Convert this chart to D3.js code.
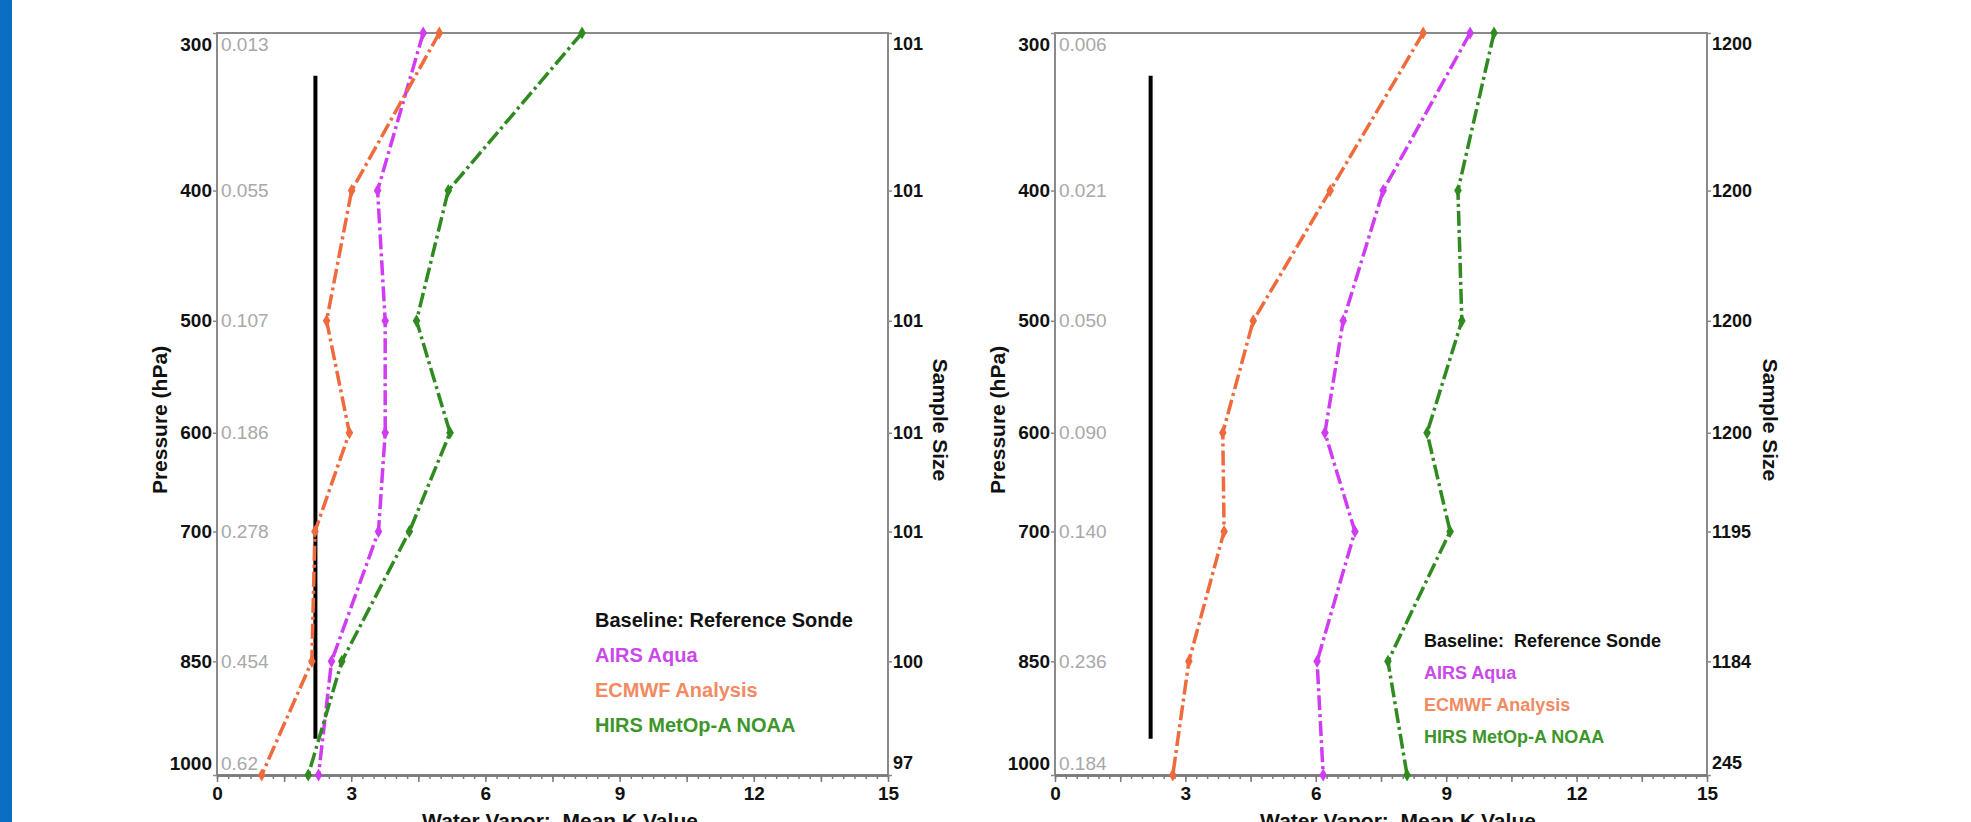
<!DOCTYPE html>
<html>
<head>
<meta charset="utf-8">
<script src="https://cdn.jsdelivr.net/npm/d3@7"></script>
<style>
  html, body { margin: 0; padding: 0; background: #fff; overflow: hidden; }
  svg { display: block; font-family: 'Liberation Sans', Arial, sans-serif; }
  .sideBar { fill: #0a6fc2; }
  .frame { fill: none; stroke: #8a8a8a; stroke-width: 2; }
  .xAxis .domain { stroke: #7a7a7a; stroke-width: 2.5; }
  .xAxis line { stroke: #7a7a7a; stroke-width: 1.5; }
  .xAxis text { font-size: 19px; font-weight: bold; fill: #111; }
  .yTicks line { stroke: #8a8a8a; stroke-width: 1.5; }
  .yTicks .domain { display: none; }
  .pLabel { font-size: 19px; font-weight: bold; fill: #111; }
  .sdLabel { font-size: 19px; fill: #a8a8a8; }
  .nLabel { font-size: 18px; font-weight: bold; fill: #111; }
  .title { font-size: 21px; font-weight: bold; fill: #111; white-space: pre; }
  .legend { font-weight: bold; white-space: pre; }
  .series { fill: none; stroke-width: 3.5; stroke-dasharray: 15,4,3,4; }
  .baseline { stroke: #000; stroke-width: 4; }
</style>
</head>
<body>
<div id="chart"></div>
<script>
'use strict';

const width = 1971;
const height = 822;

// pressure levels shared by both panels (hPa)
const pressureLevels = [300, 400, 500, 600, 700, 850, 1000];

// left panel
const airsLeft  = [4.61, 3.59, 3.76, 3.76, 3.61, 2.56, 2.27];
const ecmwfLeft = [4.97, 3.01, 2.45, 2.96, 2.19, 2.12, 1.00];
const hirsLeft  = [8.16, 5.17, 4.46, 5.21, 4.30, 2.79, 2.04];
const sdLeft    = ['0.013', '0.055', '0.107', '0.186', '0.278', '0.454', '0.62'];
const sizeLeft  = ['101', '101', '101', '101', '101', '100', '97'];

// right panel
const airsRight  = [9.55, 7.55, 6.63, 6.21, 6.90, 6.03, 6.17];
const ecmwfRight = [8.47, 6.33, 4.56, 3.86, 3.89, 3.08, 2.71];
const hirsRight  = [10.10, 9.27, 9.36, 8.56, 9.09, 7.66, 8.10];
const sdRight    = ['0.006', '0.021', '0.050', '0.090', '0.140', '0.236', '0.184'];
const sizeRight  = ['1200', '1200', '1200', '1200', '1195', '1184', '245'];

// reference sonde baseline: value, top and bottom pressure
const baselineValue = [2.2, 2.2];
const baselineRange = [325, 950];

const seriesNames = ['AIRS Aqua', 'ECMWF Analysis', 'HIRS MetOp-A NOAA'];
const seriesColors = ['#cf3cf2', '#ef6a3c', '#2f8a1f'];
const legendColors = ['#c94ae8', '#f28a62', '#3c962a'];

const xDomain = [0, 15];

window.onload = function () {
  const svg = d3.select('#chart').append('svg')
    .attr('width', width)
    .attr('height', height);

  svg.append('rect')
    .classed('sideBar', true)
    .attr('x', 0).attr('y', 0)
    .attr('width', 12).attr('height', height);

  drawPanel(svg, {
    left: 217, right: 888, top: 33, bottom: 775,
    series: [airsLeft, ecmwfLeft, hirsLeft],
    sd: sdLeft, sizes: sizeLeft, baseline: baselineValue[0],
    legendX: 595, legendY: 620, legendGap: 35, legendFont: 20,
    legendTitle: 'Baseline: Reference Sonde',
    pTitleX: 160, nTitleX: 940, xTitleX: 560
  });

  drawPanel(svg, {
    left: 1055, right: 1707, top: 33, bottom: 775,
    series: [airsRight, ecmwfRight, hirsRight],
    sd: sdRight, sizes: sizeRight, baseline: baselineValue[1],
    legendX: 1424, legendY: 641, legendGap: 32, legendFont: 18,
    legendTitle: 'Baseline:  Reference Sonde',
    pTitleX: 998, nTitleX: 1770, xTitleX: 1398
  });
};

function drawPanel(svg, p) {
  const x = d3.scaleLinear().domain(xDomain).range([p.left, p.right]);
  const y = d3.scalePow().exponent(0.25)
    .domain([pressureLevels[0], pressureLevels[pressureLevels.length - 1]])
    .range([p.top, p.bottom]);

  // labels at the ends sit just inside the frame
  const labelY = function (d) {
    return Math.min(Math.max(y(d), p.top + 11), p.bottom - 12);
  };

  const g = svg.append('g');

  // frame (top, left, right)
  g.append('path')
    .classed('frame', true)
    .attr('d', 'M' + p.left + ',' + p.bottom + 'V' + p.top + 'H' + p.right + 'V' + p.bottom);

  // x axis: minor ticks, then medium ticks with labels
  g.append('g')
    .classed('xAxis', true)
    .attr('transform', 'translate(0,' + p.bottom + ')')
    .call(d3.axisBottom(x)
      .tickValues(d3.range(0, 15.001, 0.25))
      .tickSize(4)
      .tickSizeOuter(0)
      .tickFormat(''));

  g.append('g')
    .classed('xAxis', true)
    .attr('transform', 'translate(0,' + p.bottom + ')')
    .call(d3.axisBottom(x)
      .tickValues(d3.range(0, 15.001, 1.5))
      .tickSize(7)
      .tickSizeOuter(0)
      .tickPadding(5)
      .tickFormat(function (d) { return d % 3 === 0 ? d : ''; }));

  // small ticks on left and right
  g.append('g')
    .classed('yTicks', true)
    .attr('transform', 'translate(' + p.left + ',0)')
    .call(d3.axisLeft(y).tickValues(pressureLevels).tickSize(4).tickFormat(''));
  g.append('g')
    .classed('yTicks', true)
    .attr('transform', 'translate(' + p.right + ',0)')
    .call(d3.axisRight(y).tickValues(pressureLevels).tickSize(4).tickFormat(''));

  g.selectAll('.pLabel')
      .data(pressureLevels)
    .enter().append('text')
      .classed('pLabel', true)
      .attr('x', p.left - 5)
      .attr('y', labelY)
      .attr('dy', '0.35em')
      .attr('text-anchor', 'end')
      .text(function (d) { return d; });

  g.selectAll('.sdLabel')
      .data(pressureLevels)
    .enter().append('text')
      .classed('sdLabel', true)
      .attr('x', p.left + 4)
      .attr('y', labelY)
      .attr('dy', '0.35em')
      .text(function (d, i) { return p.sd[i]; });

  g.selectAll('.nLabel')
      .data(pressureLevels)
    .enter().append('text')
      .classed('nLabel', true)
      .attr('x', p.right + 5)
      .attr('y', labelY)
      .attr('dy', '0.35em')
      .text(function (d, i) { return p.sizes[i]; });

  // axis titles
  g.append('text')
    .classed('title', true)
    .attr('transform', 'translate(' + p.pTitleX + ',420) rotate(-90)')
    .attr('text-anchor', 'middle')
    .attr('dy', '0.35em')
    .text('Pressure (hPa)');

  g.append('text')
    .classed('title', true)
    .attr('transform', 'translate(' + p.nTitleX + ',420) rotate(90)')
    .attr('text-anchor', 'middle')
    .attr('dy', '0.35em')
    .text('Sample Size');

  // cut by the bottom edge, as in the source image
  g.append('text')
    .classed('title', true)
    .attr('x', p.xTitleX)
    .attr('y', 828)
    .attr('text-anchor', 'middle')
    .text('Water Vapor:  Mean K Value');

  // reference sonde baseline
  g.append('line')
    .classed('baseline', true)
    .attr('x1', x(p.baseline)).attr('x2', x(p.baseline))
    .attr('y1', y(baselineRange[0])).attr('y2', y(baselineRange[1]));

  // series lines and markers
  const line = d3.line()
    .x(function (d) { return x(d[1]); })
    .y(function (d) { return y(d[0]); });

  p.series.forEach(function (vals, k) {
    const pts = pressureLevels.map(function (lev, i) { return [lev, vals[i]]; });
    g.append('path')
      .datum(pts)
      .classed('series', true)
      .attr('stroke', seriesColors[k])
      .attr('d', line);
    g.selectAll('.mk' + k)
        .data(pts)
      .enter().append('path')
        .attr('class', 'mk' + k)
        .attr('fill', seriesColors[k])
        .attr('d', d3.symbol().type(d3.symbolDiamond).size(50))
        .attr('transform', function (d) { return 'translate(' + x(d[1]) + ',' + y(d[0]) + ')'; });
  });

  // legend (text only)
  const leg = g.append('g')
    .attr('transform', 'translate(' + p.legendX + ',' + p.legendY + ')');
  const rows = [p.legendTitle].concat(seriesNames);
  const colors = ['#111'].concat(legendColors);
  leg.selectAll('text')
      .data(rows)
    .enter().append('text')
      .classed('legend', true)
      .attr('x', 0)
      .attr('y', function (d, i) { return i * p.legendGap; })
      .attr('dy', '0.35em')
      .style('font-size', p.legendFont + 'px')
      .attr('fill', function (d, i) { return colors[i]; })
      .text(function (d) { return d; });
}
</script>
</body>
</html>
